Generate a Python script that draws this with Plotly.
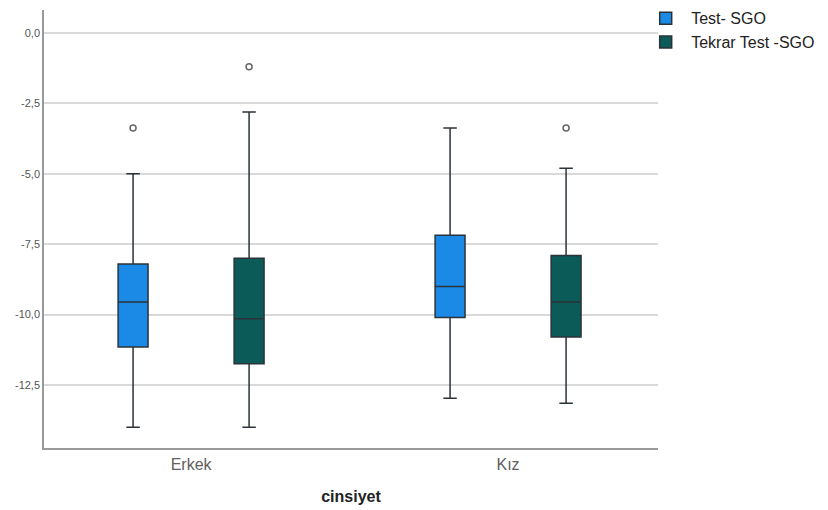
import plotly.graph_objects as go

categories = ["Erkek", "Kız"]
series_names = ["Test- SGO", "Tekrar Test -SGO"]

# per-series box statistics (Erkek, Kız)
test_lower = [-14.0, -12.97]
test_q1 = [-11.15, -10.1]
test_median = [-9.55, -9.0]
test_q3 = [-8.2, -7.18]
test_upper = [-5.0, -3.37]
test_outliers = [[-3.37], []]

tekrar_lower = [-14.0, -13.15]
tekrar_q1 = [-11.75, -10.8]
tekrar_median = [-10.15, -9.55]
tekrar_q3 = [-8.0, -7.9]
tekrar_upper = [-2.8, -4.8]
tekrar_outliers = [[-1.2], [-3.37]]

y_tickvals = [0.0, -2.5, -5.0, -7.5, -10.0, -12.5]
y_ticktext = ["0,0", "-2,5", "-5,0", "-7,5", "-10,0", "-12,5"]

colors = ["#1a8ae6", "#0b5b59"]

fig = go.Figure()
for name, col, lo, q1, med, q3, up, outs in [
    (series_names[0], colors[0], test_lower, test_q1, test_median, test_q3, test_upper, test_outliers),
    (series_names[1], colors[1], tekrar_lower, tekrar_q1, tekrar_median, tekrar_q3, tekrar_upper, tekrar_outliers),
]:
    fig.add_trace(go.Box(
        name=name,
        x=categories,
        y=outs,
        q1=q1, median=med, q3=q3, lowerfence=lo, upperfence=up,
        fillcolor=col,
        line=dict(color="#2b3338", width=1.5),
        whiskerwidth=0.45,
        boxpoints="outliers",
        marker=dict(symbol="circle-open", color="#666666", size=6,
                    line=dict(color="#666666", width=1.5)),
    ))

fig.update_layout(
    width=828, height=510,
    paper_bgcolor="white", plot_bgcolor="white",
    boxmode="group", boxgap=0.268, boxgroupgap=0.742,
    margin=dict(l=36, r=178, t=2, b=70, autoexpand=False),
    font=dict(family="Liberation Sans, Arial, sans-serif", color="#444444"),
    showlegend=True,
    legend=dict(x=0.971, xanchor="left", y=1.02, yanchor="top",
                font=dict(size=16, color="#222222"), tracegroupgap=0,
                itemwidth=41, bgcolor="rgba(0,0,0,0)"),
    xaxis=dict(
        type="category", range=[-0.464, 1.473],
        showgrid=False, showline=True, linecolor="#999999", linewidth=1.5,
        ticks="", tickfont=dict(size=16, color="#606060"), ticklabelstandoff=1,
        title=dict(text="<b>cinsiyet</b>", font=dict(size=16, color="#222222"), standoff=19),
    ),
    yaxis=dict(
        range=[-14.74, 0.82],
        tickvals=y_tickvals, ticktext=y_ticktext,
        showgrid=True, gridcolor="#d9d9d9", gridwidth=1.5,
        zeroline=False, showline=True, linecolor="#999999", linewidth=1.5,
        ticks="", tickfont=dict(size=11, color="#555555"),
    ),
)

fig.write_html("out.html")
